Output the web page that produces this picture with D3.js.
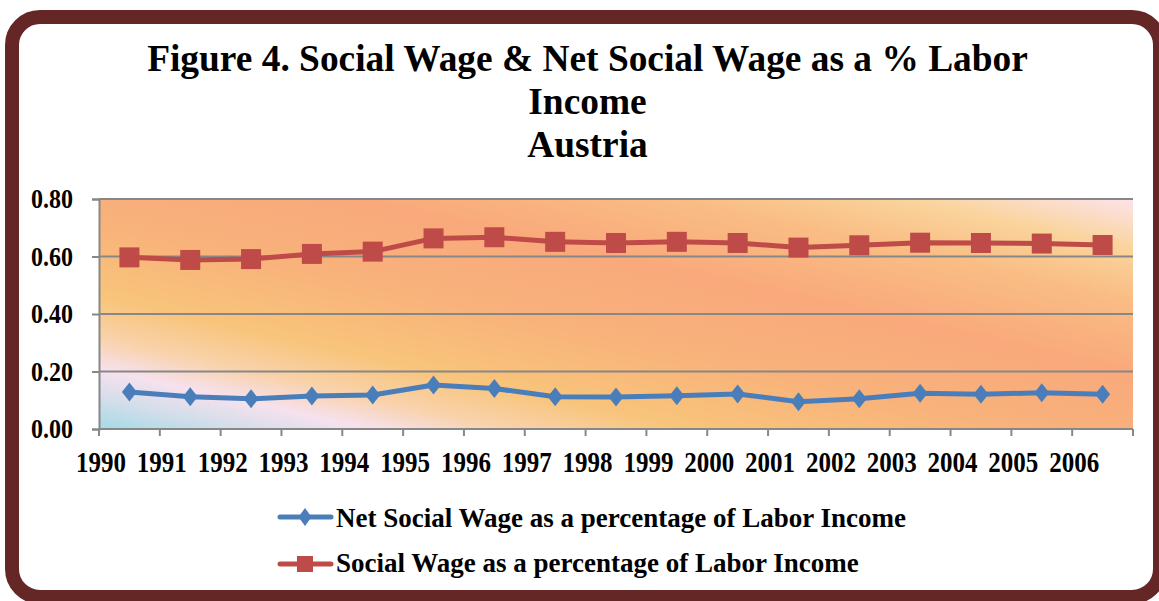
<!DOCTYPE html>
<html>
<head>
<meta charset="utf-8">
<script src="https://cdn.jsdelivr.net/npm/d3@7"></script>
<style>
  html, body { margin: 0; padding: 0; background: #ffffff; }
  svg { display: block; }
</style>
</head>
<body>
<svg id="chart" width="1159" height="601"></svg>
<script>
// ---- data ----
const years = ["1990","1991","1992","1993","1994","1995","1996","1997","1998","1999","2000","2001","2002","2003","2004","2005","2006"];
const netSocialWage = [0.129,0.112,0.105,0.115,0.118,0.153,0.141,0.112,0.111,0.116,0.122,0.095,0.105,0.124,0.121,0.126,0.121];
const socialWage    = [0.597,0.588,0.591,0.609,0.617,0.663,0.667,0.651,0.647,0.651,0.647,0.631,0.639,0.648,0.647,0.645,0.640];
const yTicks = [0, 0.2, 0.4, 0.6, 0.8];
const titleLines = ["Figure 4. Social Wage & Net Social Wage as a % Labor", "Income", "Austria"];
const seriesNames = ["Net Social Wage as a percentage of Labor Income", "Social Wage as a percentage of Labor Income"];

const W = 1159, H = 601;
const svg = d3.select("#chart");
const font = "'Liberation Serif', 'Times New Roman', serif";

// frame
svg.append("rect")
  .attr("x", 12).attr("y", 17).attr("width", 1148).attr("height", 580)
  .attr("rx", 28).attr("ry", 28)
  .attr("fill", "#ffffff").attr("stroke", "#652626").attr("stroke-width", 14);

// title
const title = svg.append("g").attr("font-family", font).attr("font-weight", "bold")
  .attr("font-size", 37.4).attr("fill", "#000").attr("text-anchor", "middle");
titleLines.forEach((t, i) => {
  title.append("text").attr("x", 587.5).attr("y", 71 + i * 43).text(t);
});

// plot area
const m = { left: 99, right: 1133, top: 199, bottom: 429 };
const x = d3.scaleBand().domain(years).range([m.left, m.right]).paddingInner(0).paddingOuter(0);
const y = d3.scaleLinear().domain([0, 0.8]).range([m.bottom, m.top]);

// gradient background
const defs = svg.append("defs");
const grad = defs.append("linearGradient").attr("id", "bg")
  .attr("x1", 0).attr("y1", 1).attr("x2", 1).attr("y2", 0);
[
  [0.00, "#a4dae6"],
  [0.07, "#d4deea"],
  [0.13, "#f6e1ee"],
  [0.20, "#f9d2aa"],
  [0.29, "#f8c47a"],
  [0.45, "#f8b27b"],
  [0.62, "#f9a97b"],
  [0.78, "#f9bd84"],
  [0.89, "#fad49c"],
  [1.00, "#fce3ec"]
].forEach(([o, c]) => grad.append("stop").attr("offset", o).attr("stop-color", c));

svg.append("rect")
  .attr("x", m.left).attr("y", m.top)
  .attr("width", m.right - m.left).attr("height", m.bottom - m.top)
  .attr("fill", "url(#bg)");

// gridlines
svg.append("g").selectAll("line").data(yTicks.filter(d => d > 0)).join("line")
  .attr("x1", m.left).attr("x2", m.right)
  .attr("y1", d => y(d)).attr("y2", d => y(d))
  .attr("stroke", "#878787").attr("stroke-width", 2);

// y axis
const yAxis = svg.append("g").attr("transform", `translate(${m.left},0)`)
  .call(d3.axisLeft(y).tickValues(yTicks).tickFormat("").tickSize(7));
yAxis.select(".domain").attr("stroke", "#878787").attr("stroke-width", 2);
yAxis.selectAll(".tick line").attr("stroke", "#878787").attr("stroke-width", 2);
svg.append("g").selectAll("text").data(yTicks).join("text")
  .attr("transform", d => `translate(73,${y(d) + 9}) scale(1,1.13)`)
  .attr("text-anchor", "end")
  .attr("font-family", font).attr("font-weight", "bold").attr("font-size", 24)
  .attr("fill", "#000").text(d => d3.format(".2f")(d));

// x axis: ticks at category boundaries, labels at boundaries
const xAxisG = svg.append("g").attr("transform", `translate(0,${m.bottom})`);
const bounds = years.map(d => x(d)).concat([m.right]);
xAxisG.append("line").attr("x1", m.left).attr("x2", m.right).attr("y1", 0).attr("y2", 0)
  .attr("stroke", "#878787").attr("stroke-width", 2);
xAxisG.selectAll("line.tk").data(bounds).join("line").attr("class", "tk")
  .attr("x1", d => d).attr("x2", d => d).attr("y1", 0).attr("y2", 7)
  .attr("stroke", "#878787").attr("stroke-width", 2);
xAxisG.selectAll("text").data(years).join("text")
  .attr("transform", d => `translate(${x(d) + 2},43) scale(1,1.18)`)
  .attr("text-anchor", "middle")
  .attr("font-family", font).attr("font-weight", "bold").attr("font-size", 25)
  .attr("fill", "#000").text(d => d);

// lines
const cx = d => x(d) + x.bandwidth() / 2;
const blue = "#4a7ebb", red = "#be4b48";
const lineGen = vals => d3.line().x((d, i) => cx(years[i])).y(d => y(d))(vals);

svg.append("path").attr("d", lineGen(socialWage)).attr("fill", "none")
  .attr("stroke", red).attr("stroke-width", 5).attr("stroke-linejoin", "round");
svg.append("g").selectAll("rect").data(socialWage).join("rect")
  .attr("x", (d, i) => cx(years[i]) - 10).attr("y", d => y(d) - 10)
  .attr("width", 20).attr("height", 20).attr("fill", red);

svg.append("path").attr("d", lineGen(netSocialWage)).attr("fill", "none")
  .attr("stroke", blue).attr("stroke-width", 5).attr("stroke-linejoin", "round");
const diamond = (cxv, cyv, w, h) => `M${cxv},${cyv - h/2}L${cxv + w/2},${cyv}L${cxv},${cyv + h/2}L${cxv - w/2},${cyv}Z`;
svg.append("g").selectAll("path").data(netSocialWage).join("path")
  .attr("d", (d, i) => diamond(cx(years[i]), y(d), 15, 19)).attr("fill", blue);

// legend
const legend = svg.append("g");
const legendRows = [
  { name: seriesNames[0], color: blue, shape: "diamond", y: 517, ty: 527 },
  { name: seriesNames[1], color: red, shape: "square", y: 564, ty: 572 }
];
legendRows.forEach(r => {
  legend.append("line").attr("x1", 280).attr("x2", 331).attr("y1", r.y).attr("y2", r.y)
    .attr("stroke", r.color).attr("stroke-width", 5).attr("stroke-linecap", "round");
  if (r.shape === "diamond") {
    legend.append("path").attr("d", diamond(305, r.y, 13, 18)).attr("fill", r.color);
  } else {
    legend.append("rect").attr("x", 297).attr("y", r.y - 8).attr("width", 16).attr("height", 16).attr("fill", r.color);
  }
  legend.append("text").attr("x", 336).attr("y", r.ty)
    .attr("font-family", font).attr("font-weight", "bold").attr("font-size", 27)
    .attr("fill", "#000").text(r.name);
});
</script>
</body>
</html>
